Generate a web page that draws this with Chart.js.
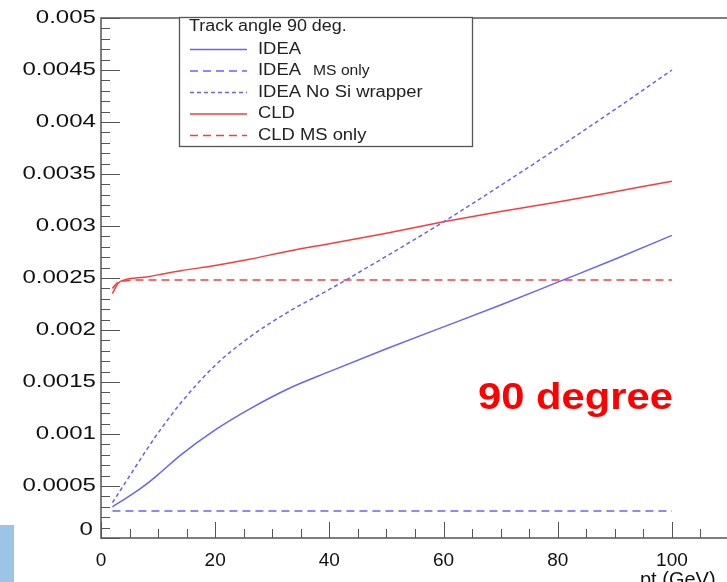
<!DOCTYPE html>
<html>
<head>
<meta charset="utf-8">
<script src="https://cdn.jsdelivr.net/npm/chart.js@4.4.0/dist/chart.umd.min.js"></script>
<style>
  html, body { margin: 0; padding: 0; background: #fff; overflow: hidden; }
  #wrap { position: relative; width: 727px; height: 582px; overflow: hidden; }
  #corner { position: absolute; left: 0; top: 525px; width: 14px; height: 57px; background: #9dc3e6; }
</style>
</head>
<body>
<div id="wrap">
  <canvas id="resChart" width="740" height="582"></canvas>
  <div id="corner"></div>
</div>
<script>
// pt values (GeV) where the curves were read
const pt = [2, 3, 4, 6, 8, 10, 14, 20, 26, 33, 40, 50, 60, 70, 80, 90, 100];

const ideaRes    = [0.00030, 0.000335, 0.00037, 0.00044, 0.00052, 0.00061, 0.00080, 0.00104, 0.00124, 0.00144, 0.00160, 0.00182, 0.00203, 0.00224, 0.00246, 0.00268, 0.00291];
const ideaMsOnly = [0.00026, 0.00026, 0.00026, 0.00026, 0.00026, 0.00026, 0.00026, 0.00026, 0.00026, 0.00026, 0.00026, 0.00026, 0.00026, 0.00026, 0.00026, 0.00026, 0.00026];
const ideaNoSi   = [0.00034, 0.000425, 0.00051, 0.00068, 0.00085, 0.00101, 0.00130, 0.00166, 0.00193, 0.00218, 0.00239, 0.00271, 0.00304, 0.00339, 0.00375, 0.00412, 0.00450];
const cldRes     = [0.00235, 0.00245, 0.00248, 0.00250, 0.00251, 0.00253, 0.00257, 0.00262, 0.00268, 0.00276, 0.00283, 0.00293, 0.00304, 0.00314, 0.00323, 0.00333, 0.00343];
const cldMsOnly  = [0.00240, 0.00246, 0.00247, 0.00248, 0.00248, 0.00248, 0.00248, 0.00248, 0.00248, 0.00248, 0.00248, 0.00248, 0.00248, 0.00248, 0.00248, 0.00248, 0.00248];

const xTicks = [0, 20, 40, 60, 80, 100];
const legendTitle = 'Track angle 90 deg.';
const seriesNames = ['IDEA', 'IDEA  MS only', 'IDEA No Si wrapper', 'CLD', 'CLD MS only'];

const BLUE = '#6464ff';
const RED = '#ff3a3a';
const FONT = '"Liberation Sans", Arial, sans-serif';

function toPoints(ys) {
    return pt.map((x, i) => ({ x: x, y: ys[i] }));
}

// draw text stretched horizontally like the original slide
function stretchText(ctx, text, x, y, sx, align) {
    ctx.save();
    ctx.translate(x, y);
    ctx.scale(sx, 1);
    ctx.textAlign = align;
    ctx.fillText(text, 0, 0);
    ctx.restore();
}

const rootFrame = {
    id: 'rootFrame',
    afterDatasetsDraw(chart) {
        const ctx = chart.ctx;
        const a = chart.chartArea;
        const xs = chart.scales.x;
        const ys = chart.scales.y;

        ctx.save();
        ctx.strokeStyle = '#555';
        ctx.lineWidth = 1.5;
        ctx.strokeRect(a.left, a.top, a.right - a.left, a.bottom - a.top);

        // inner ticks on x axis
        ctx.lineWidth = 1;
        ctx.beginPath();
        for (let v = 0; v <= xs.max; v += 5) {
            const px = Math.round(xs.getPixelForValue(v)) + 0.5;
            const len = v % 20 === 0 ? 16 : 9;
            ctx.moveTo(px, a.bottom);
            ctx.lineTo(px, a.bottom - len);
        }
        // inner ticks on y axis
        for (let i = 0; i <= 50; i++) {
            const v = i * 0.0001;
            const py = Math.round(ys.getPixelForValue(v)) + 0.5;
            const len = i % 5 === 0 ? 19 : 9;
            ctx.moveTo(a.left, py);
            ctx.lineTo(a.left + len, py);
        }
        ctx.stroke();

        // y labels
        ctx.fillStyle = '#111';
        ctx.font = '18.5px ' + FONT;
        ctx.textBaseline = 'middle';
        ys.ticks.forEach(t => {
            const py = ys.getPixelForValue(t.value);
            const txt = parseFloat(t.value.toFixed(4)).toString();
            if (t.value === 0) {
                stretchText(ctx, txt, 93, py - 8, 1.3, 'right');
            } else {
                stretchText(ctx, txt, 96, py, 1.3, 'right');
            }
        });

        // x axis title, partly cut by the page edge
        ctx.font = '20px ' + FONT;
        ctx.textBaseline = 'alphabetic';
        ctx.textAlign = 'left';
        ctx.fillText('pt (GeV)', 640, 586);

        // legend box
        const lx = 179.5, ly = 17.5, lw = 293, lh = 129;
        ctx.fillStyle = '#fff';
        ctx.fillRect(lx, ly, lw, lh);
        ctx.strokeStyle = '#555';
        ctx.lineWidth = 1.3;
        ctx.strokeRect(lx, ly, lw, lh);

        ctx.textBaseline = 'middle';
        ctx.fillStyle = '#222';
        ctx.font = '16px ' + FONT;
        stretchText(ctx, legendTitle, 189, 27, 1.12, 'left');

        const rows = [49.5, 71, 92.5, 114, 135.5];
        chart.data.datasets.forEach((ds, i) => {
            const y = rows[i];
            ctx.save();
            ctx.strokeStyle = ds.borderColor;
            ctx.lineWidth = 1.5;
            ctx.setLineDash(ds.borderDash || []);
            ctx.beginPath();
            ctx.moveTo(190, y);
            ctx.lineTo(247, y);
            ctx.stroke();
            ctx.restore();
            ctx.fillStyle = '#222';
            if (i === 1) {
                ctx.font = '16px ' + FONT;
                stretchText(ctx, 'IDEA', 258, y, 1.15, 'left');
                ctx.font = '14px ' + FONT;
                stretchText(ctx, 'MS only', 313, y, 1.12, 'left');
            } else {
                ctx.font = '16px ' + FONT;
                stretchText(ctx, ds.label, 258, y, 1.15, 'left');
            }
        });

        // big red note
        ctx.fillStyle = '#ff0000';
        ctx.font = 'bold 36px ' + FONT;
        ctx.textBaseline = 'alphabetic';
        stretchText(ctx, '90 degree', 478, 409, 1.16, 'left');
        ctx.restore();
    }
};

const ctx = document.getElementById('resChart').getContext('2d');
new Chart(ctx, {
    type: 'line',
    data: {
        datasets: [
            { label: seriesNames[0], data: toPoints(ideaRes), borderColor: BLUE, borderWidth: 1.5 },
            { label: seriesNames[1], data: toPoints(ideaMsOnly), borderColor: BLUE, borderWidth: 1.5, borderDash: [8, 5] },
            { label: seriesNames[2], data: toPoints(ideaNoSi), borderColor: BLUE, borderWidth: 1.5, borderDash: [4, 3] },
            { label: seriesNames[3], data: toPoints(cldRes), borderColor: RED, borderWidth: 1.5 },
            { label: seriesNames[4], data: toPoints(cldMsOnly), borderColor: RED, borderWidth: 1.5, borderDash: [8, 5] }
        ]
    },
    options: {
        responsive: false,
        animation: false,
        events: [],
        elements: {
            point: { radius: 0 },
            line: { cubicInterpolationMode: 'monotone', fill: false }
        },
        layout: { padding: { top: 18, right: 11, left: 0, bottom: 0 } },
        plugins: {
            legend: { display: false },
            tooltip: { enabled: false },
            title: { display: false }
        },
        scales: {
            x: {
                type: 'linear',
                min: 0,
                max: 110,
                grid: { display: false },
                border: { display: false },
                afterFit: s => { s.height = 44; },
                afterBuildTicks: s => { s.ticks = xTicks.map(v => ({ value: v })); },
                ticks: {
                    padding: 3,
                    color: '#111',
                    font: { size: 19, family: FONT }
                }
            },
            y: {
                min: 0,
                max: 0.005,
                grid: { display: false },
                border: { display: false },
                afterFit: s => { s.width = 101; },
                ticks: { stepSize: 0.0005, display: false }
            }
        }
    },
    plugins: [rootFrame]
});
</script>
</body>
</html>
